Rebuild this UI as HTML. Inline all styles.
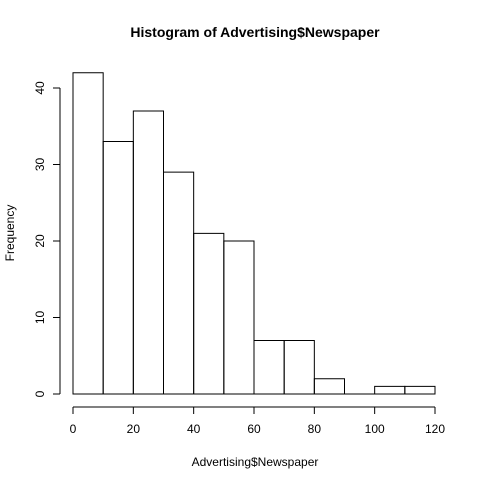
<!DOCTYPE html>
<html><head><style>
html,body{margin:0;padding:0;background:#fff;}
svg text{font-family:"Liberation Sans",Arial,sans-serif;fill:#000;}
</style></head><body>
<svg id="chart" width="480" height="480">
<text x="255" y="37" text-anchor="middle" font-size="14" font-weight="bold">Histogram of Advertising$Newspaper</text>
<text x="255" y="466" text-anchor="middle" font-size="12">Advertising$Newspaper</text>
<text transform="translate(14,233) rotate(-90)" text-anchor="middle" font-size="12">Frequency</text>
<g id="bars"></g><g id="xaxis"></g><g id="yaxis"></g>
</svg>
<script>
const binStarts=[0,10,20,30,40,50,60,70,80,90,100,110];
const binWidth=10;
const counts=[42,33,37,29,21,20,7,7,2,0,1,1];
const xTicks=[0,20,40,60,80,100,120];
const yTicks=[0,10,20,30,40];
const NS="http://www.w3.org/2000/svg";
function xs(v){return 73+v*(435-73)/120;}
function ys(v){return 394-v*(394-88)/40;}
function mk(tag,attrs,parent){const e=document.createElementNS(NS,tag);for(const k in attrs)e.setAttribute(k,attrs[k]);parent.appendChild(e);return e;}
const bars=document.getElementById('bars');
binStarts.forEach((s,i)=>{
  const x0=xs(s),x1=xs(s+binWidth),y0=ys(0),y1=ys(counts[i]);
  const r=mk('path',{d:`M${x0},${y0}L${x0},${y1}L${x1},${y1}L${x1},${y0}Z`,fill:'none',stroke:'#000','stroke-width':1},bars);
  
  
});
const xa=document.getElementById('xaxis');


mk('line',{x1:xs(xTicks[0]),x2:xs(xTicks[xTicks.length-1]),y1:407,y2:407,stroke:'#000'},xa);
xTicks.forEach(t=>{
  mk('line',{x1:xs(t),x2:xs(t),y1:407,y2:414,stroke:'#000'},xa);
  const tx=mk('text',{x:xs(t),y:433,'text-anchor':'middle','font-size':12},xa);
  tx.textContent=t;
  
  
});
const ya=document.getElementById('yaxis');


mk('line',{x1:60,x2:60,y1:ys(yTicks[0]),y2:ys(yTicks[yTicks.length-1]),stroke:'#000'},ya);
yTicks.forEach(t=>{
  mk('line',{x1:53,x2:60,y1:ys(t),y2:ys(t),stroke:'#000'},ya);
  const tx=mk('text',{transform:`translate(44,${ys(t)}) rotate(-90)`,'text-anchor':'middle','font-size':12},ya);
  tx.textContent=t;
  
  
});
</script>
</body></html>
